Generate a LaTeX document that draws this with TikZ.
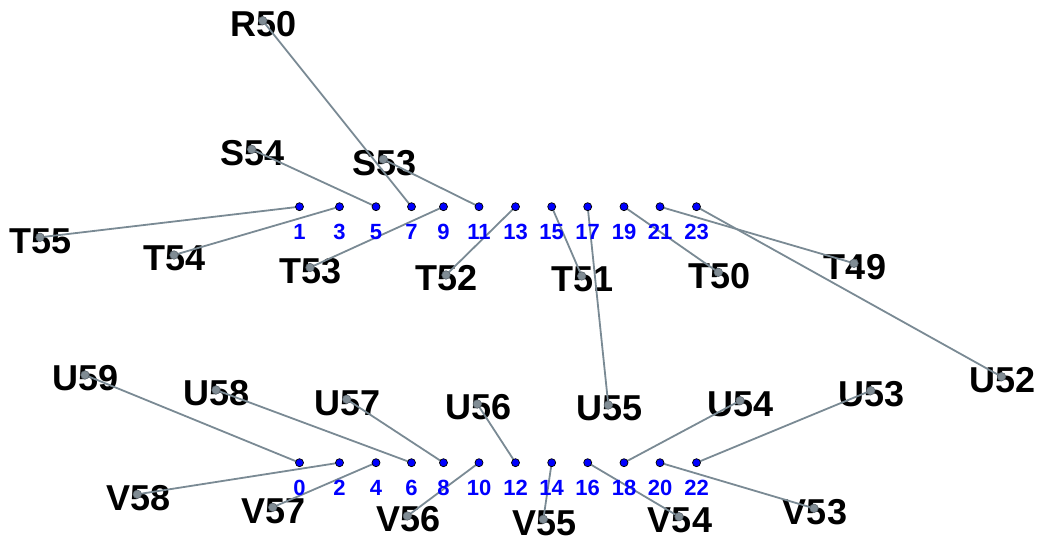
\documentclass[tikz,border=0pt]{standalone}
\usepackage{fontspec}
\setmainfont{Liberation Sans}
\definecolor{wirec}{RGB}{122,138,148}
\definecolor{dotgrey}{RGB}{128,140,148}
\definecolor{dotedge}{RGB}{90,100,108}
\definecolor{pinblue}{RGB}{0,0,255}
\pgfdeclarelayer{textlayer}
\pgfdeclarelayer{wirelayer}
\pgfsetlayers{textlayer,wirelayer,main}
\begin{document}
\begin{tikzpicture}[x=1pt,y=-1pt,
  pinnode/.style={circle,fill=pinblue,draw=black,line width=0.7pt,inner sep=0pt,minimum size=8pt},
  numlabel/.style={text=pinblue,font=\fontsize{22}{22}\selectfont\bfseries,inner sep=0pt},
  biglabel/.style={text=black,font=\fontsize{36}{36}\selectfont\bfseries,inner sep=0pt},
  greydot/.style={circle,fill=dotgrey,draw=dotedge,line width=0.6pt,inner sep=0pt,minimum size=8.5pt},
  wire/.style={draw=wirec,line width=1.8pt}]
\useasboundingbox (0,0) rectangle (1042,538);
% pins: top row odd, bottom row even
\foreach \k/\x in {1/299.5,3/339.5,5/376,7/411.5,9/443.5,11/479,13/515.5,15/551.7,17/587.7,19/624,21/660,23/696.5}{
  \node[pinnode] (p\k) at (\x,206.7) {};
  \node[numlabel] (n\k) at (\x,231.7) {\k};
}
\foreach \k/\x in {0/299.5,2/339.5,4/376,6/411.5,8/443.5,10/479,12/515.5,14/551.7,16/587.7,18/624,20/660,22/696.5}{
  \node[pinnode] (p\k) at (\x,462.7) {};
  \node[numlabel] (n\k) at (\x,487.7) {\k};
}
% labels with grey anchor dots and connectors
\foreach \n/\x/\y/\t in {
  R50/262.7/20.7/7, S54/251.7/149.3/5, S53/383.3/159.3/11,
  T55/40/237.3/1, T54/174/255/3, T53/310/267.5/9, T52/446/275/13,
  T51/581.7/276/15, T50/718.3/272.3/19, T49/854/263.3/21,
  U52/1001.5/376.7/23, U55/608.3/405/17,
  U59/85/375/0, U58/216/390/6, U57/346.7/399.3/8, U56/477.3/404/12,
  U54/740/400.7/18, U53/870.7/390.7/22,
  V58/137.3/494.3/2, V57/272.7/507.3/4, V56/407.3/516/10,
  V55/543.3/519.3/14, V54/679/516.7/16, V53/814/508.3/20}{
  \node[greydot] (d\n) at (\x,\y) {};
  \begin{pgfonlayer}{textlayer}
    \node[biglabel] (t\n) at ([shift={(1pt,-3.5pt)}]d\n.center) {\n};
  \end{pgfonlayer}
  \begin{pgfonlayer}{wirelayer}
    \draw[wire] (d\n.center) -- (p\t.center);
  \end{pgfonlayer}
}
\end{tikzpicture}
\end{document}
